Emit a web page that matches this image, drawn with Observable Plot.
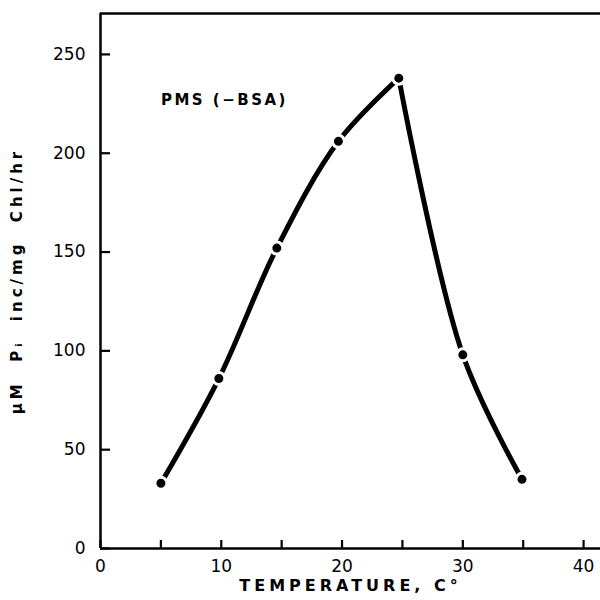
<!DOCTYPE html>
<html>
<head>
<meta charset="utf-8">
<script src="https://cdn.jsdelivr.net/npm/d3@7"></script>
<script src="https://cdn.jsdelivr.net/npm/@observablehq/plot@0.6"></script>
<style>
  html, body { margin: 0; padding: 0; background: #fff; }
  svg { display: block; }
</style>
</head>
<body>
<div id="chart"></div>
<script>
// Data
const temperature = [5, 9.8, 14.6, 19.7, 24.7, 30.0, 34.9];   // °C
const rate = [33, 86, 152, 206, 238, 98, 35];                  // µM Pi inc/mg Chl/hr
const segment = ["rise", "rise", "rise", "rise", "rise", "fall", "fall"];
const xTicks = [0, 5, 10, 15, 20, 25, 30, 35, 40];
const xLabelled = [0, 10, 20, 30, 40];
const yTicks = [0, 50, 100, 150, 200, 250];
const seriesLabel = "PMS (\u2212BSA)";
const xTitle = "TEMPERATURE, C\u00B0";
const yTitle = "\u03BCM  P\u1D62  inc/mg  Chl/hr";

const points = temperature.map((t, i) => ({t, v: rate[i], seg: segment[i]}));
// the peak point is shared by both branches
const lineData = [
  ...points.filter(d => d.seg === "rise"),
  {t: temperature[4], v: rate[4], seg: "fall"},
  ...points.filter(d => d.seg === "fall")
];
const xTickData = xTicks.map(v => ({v}));
const yTickData = yTicks.map(v => ({v}));

const font = "DejaVu Sans, sans-serif";

const chart = Plot.plot({
  width: 600,
  height: 600,
  marginLeft: 100,
  marginRight: 0,
  marginTop: 13,
  marginBottom: 52,
  style: {fontFamily: font, fontSize: "16px", background: "#fff"},
  x: {domain: [0, 41.4], label: null},
  y: {domain: [0, 270.7], label: null},
  marks: [
    Plot.ruleX([0], {stroke: "#000", strokeWidth: 2.5}),
    Plot.ruleY([0], {stroke: "#000", strokeWidth: 2.5}),
    Plot.ruleY([270.7], {stroke: "#000", strokeWidth: 2.5}),
    // inward ticks
    Plot.ruleX(xTickData, {x: "v", y1: 0, y2: 0, insetTop: -8, stroke: "#000", strokeWidth: 2.2}),
    Plot.ruleY(yTickData, {y: "v", x1: 0, x2: 0, insetRight: -10, stroke: "#000", strokeWidth: 2.2}),
    Plot.axisX({ticks: xLabelled, tickSize: 0, tickPadding: 11, label: null, fontSize: 17}),
    Plot.axisY({ticks: yTicks, tickSize: 0, tickPadding: 15, label: null, fontSize: 17}),
    Plot.line(lineData, {x: "t", y: "v", z: "seg", curve: "catmull-rom", stroke: "#000", strokeWidth: 5}),
    Plot.dot(points, {x: "t", y: "v", r: 6, fill: "#000", stroke: "#fff", strokeWidth: 3}),
    Plot.text([seriesLabel], {x: 5, y: 227, text: d => d, textAnchor: "start", fontSize: 15, fontWeight: "bold"}),
    Plot.text([xTitle], {frameAnchor: "bottom", textAnchor: "middle", dy: 42, text: d => d, fontSize: 16, fontWeight: "bold"}),
    Plot.text([yTitle], {frameAnchor: "left", textAnchor: "middle", dx: -83, rotate: -90, text: d => d, fontSize: 15, fontWeight: "bold"})
  ]
});

d3.select(chart).selectAll("text").each(function() {
  const s = this.textContent;
  if (s === xTitle) this.setAttribute("letter-spacing", "4");
  if (s === seriesLabel) this.setAttribute("letter-spacing", "2.5");
  if (s === yTitle) this.setAttribute("letter-spacing", "4");
});

document.getElementById("chart").appendChild(chart);
</script>
</body>
</html>
